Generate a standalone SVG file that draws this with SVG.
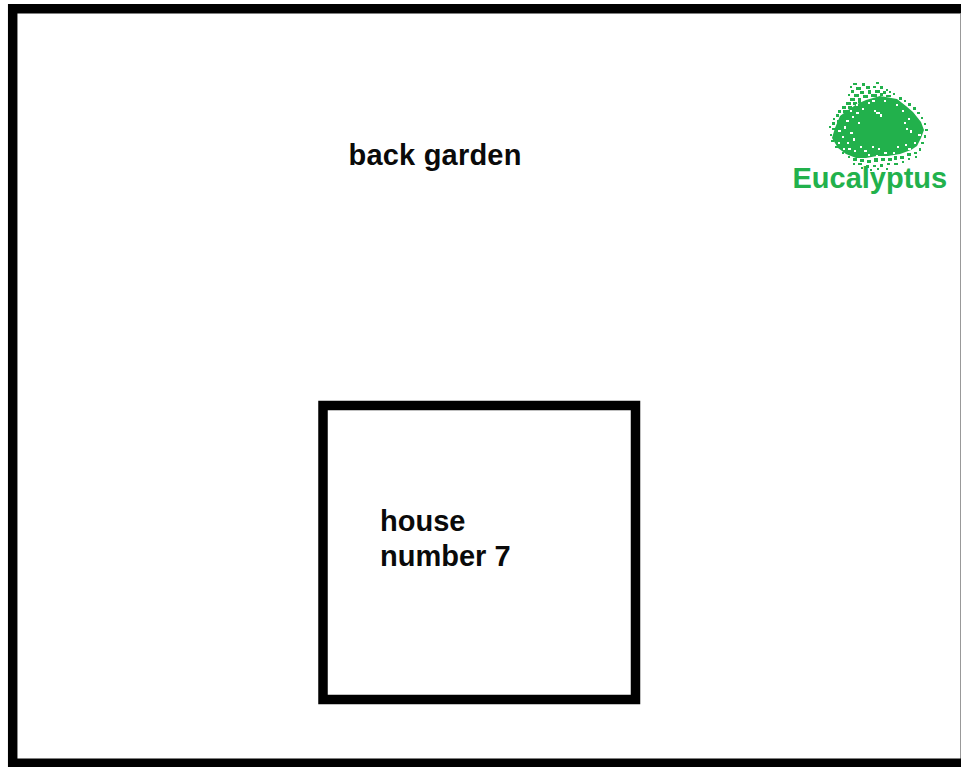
<svg xmlns="http://www.w3.org/2000/svg" width="961" height="767" viewBox="0 0 961 767">
<style>
text{font-family:"Liberation Sans",Arial,sans-serif;font-weight:700;font-size:29px;fill:#0a0a0a}
.wall{fill:none;stroke:#000}
.g{fill:#22b14c}
.w{fill:#fff}
</style>
<rect width="961" height="767" fill="#fff"/>
<g id="plot">
<path d="M960.500 14V767" stroke="#999" fill="none"/>
<path class="wall" stroke-width="9.500" d="M961 8.700H12.700V763.200H961"/>
</g>
<g id="house">
<rect class="wall" x="323" y="405.500" width="312.500" height="294" stroke-width="9.500"/>
<text x="380" y="530.500">house</text>
<text x="380" y="566">number 7</text>
</g>
<g id="back-garden"><text x="348.500" y="165" letter-spacing="0.200">back garden</text></g>
<g id="eucalyptus">
<path class="g" d="M857 104L866 100L880 96L897 99L906 106L913 112L921 122L924 130L921 138L917 146L911 150L900 154L888 156L877 156L866 158L856 158L846 154L838 148L832 138L835 128L840 116L848 110Z"/>
<path class="g" d="M853 83h4v2h-4zM862 83h3v3h-3zM876 82h3v2h-3zM850 86h2v2h-2zM856 87h5v3h-5zM866 86h4v3h-4zM873 86h3v2h-3zM880 86h3v3h-3zM886 89h2v2h-2zM851 90h3v3h-3zM860 91h4v3h-4zM868 90h3v4h-3zM875 90h5v3h-5zM883 91h3v3h-3zM889 91h2v2h-2zM848 94h2v2h-2zM854 94h5v3h-5zM863 95h5v3h-5zM871 94h6v3h-6zM880 93h3v3h-3zM886 95h5v2h-5zM893 93h2v2h-2zM850 98h5v3h-5zM858 98h3v5h-3zM846 102h5v3h-5zM853 102h4v3h-4zM842 106h4v3h-4zM848 106h4v3h-4zM838 110h3v3h-3zM843 110h5v3h-5zM836 114h3v3h-3zM841 115h3v3h-3zM833 118h2v2h-2zM832 122h3v3h-3zM829 126h2v2h-2zM837 120h3v3h-3zM832 128h3v2h-3zM899 97h3v3h-3zM904 100h2v2h-2zM908 103h3v3h-3zM913 107h3v3h-3zM917 112h3v2h-3zM921 117h2v2h-2zM924 123h2v2h-2zM925 129h3v2h-3zM924 135h2v3h-2zM921 142h3v2h-3zM919 148h2v3h-2zM914 152h3v2h-3zM907 153h4v3h-4zM900 156h4v3h-4zM894 156h3v4h-3zM915 156h2v2h-2zM908 158h2v2h-2zM902 161h2v2h-2zM888 158h4v3h-4zM881 158h4v3h-4zM874 158h4v4h-4zM867 160h4v3h-4zM860 159h4v3h-4zM853 158h4v3h-4zM848 156h2v2h-2zM842 152h2v2h-2zM894 163h4v2h-4zM887 163h3v2h-3zM880 164h3v3h-3zM873 165h3v2h-3zM866 165h3v3h-3zM858 163h4v2h-4zM853 163h2v2h-2zM861 167h2v2h-2zM877 168h2v2h-2zM886 168h2v2h-2zM870 169h2v2h-2zM830 134h2v2h-2zM831 140h3v2h-3zM835 146h3v2h-3z"/>
<path class="w" d="M852 116h2v2h-2zM846 120h3v2h-3zM856 112h3v2h-3zM862 108h2v2h-2zM858 122h2v2h-2zM844 126h2v3h-2zM838 130h3v2h-3zM842 136h2v2h-2zM850 132h3v2h-3zM847 142h2v2h-2zM853 138h2v3h-2zM848 148h3v2h-3zM860 146h2v2h-2zM854 150h2v2h-2zM864 150h3v2h-3zM872 146h2v2h-2zM878 148h2v2h-2zM868 154h2v2h-2zM884 152h3v2h-3zM876 155h2v2h-2zM874 110h2v2h-2zM876 112h4v2h-4zM880 114h2v3h-2zM904 122h2v2h-2zM908 118h2v2h-2zM906 128h2v2h-2zM910 130h2v3h-2zM918 134h3v2h-3zM914 142h2v2h-2zM905 144h2v2h-2zM897 146h2v2h-2zM908 148h3v2h-3zM893 152h2v2h-2zM856 104h2v2h-2zM850 110h2v2h-2zM868 102h2v2h-2zM872 100h3v2h-3zM884 100h2v2h-2zM896 104h2v2h-2zM902 110h2v2h-2zM838 142h2v2h-2zM843 148h2v2h-2z"/>
<text x="792.500" y="187.500" style="fill:#22b14c">Eucalyptus</text>
</g>
</svg>
